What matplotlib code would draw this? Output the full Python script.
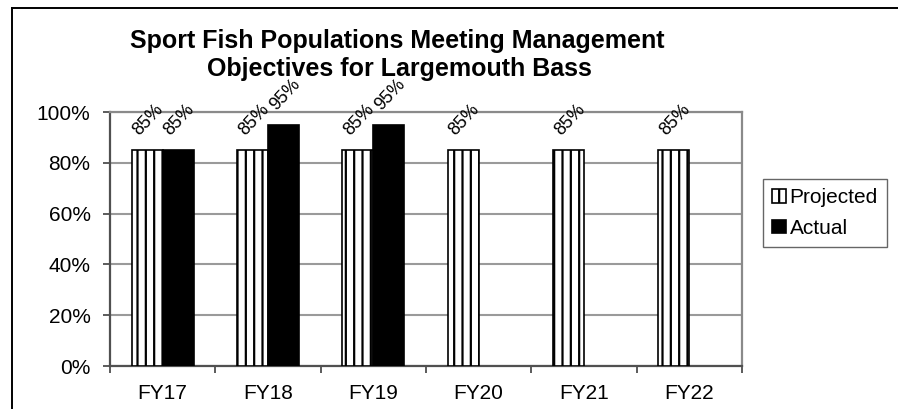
import matplotlib
matplotlib.use("Agg")
import matplotlib.pyplot as plt
import numpy as np
from matplotlib.lines import Line2D

plt.rcParams['font.family'] = ['Liberation Sans', 'DejaVu Sans']
plt.rcParams['hatch.linewidth'] = 1.6
plt.rcParams['hatch.color'] = 'black'

categories = ["FY17", "FY18", "FY19", "FY20", "FY21", "FY22"]
projected = [85, 85, 85, 85, 85, 85]
actual = [85, 95, 95, None, None, None]
yticks = [0, 20, 40, 60, 80, 100]
ytick_labels = ["0%", "20%", "40%", "60%", "80%", "100%"]
title_lines = ["Sport Fish Populations Meeting Management",
               "Objectives for Largemouth Bass"]

fig = plt.figure(figsize=(8.98, 4.09), dpi=100)
ax = fig.add_axes([110/898, 1-366/409, (742-110)/898, (366-112)/409])

x = np.arange(len(categories))
w = 0.295
proj_bars = ax.bar(x - w/2, projected, width=w, facecolor='white', edgecolor='black',
                   hatch='||', linewidth=1.2, label='Projected', zorder=3)
act_x = [xi + w/2 for xi, v in zip(x, actual) if v is not None]
act_v = [v for v in actual if v is not None]
act_bars = ax.bar(act_x, act_v, width=w, facecolor='black', edgecolor='black',
                  linewidth=1.2, label='Actual', zorder=3)

for bx, v in zip(x - w/2, projected):
    ax.annotate(f"{v}%", (bx, v), xytext=(1, 8), textcoords='offset points',
                rotation=47, ha='center', va='bottom', fontsize=13,
                annotation_clip=False)
for bx, v in zip(act_x, act_v):
    ax.annotate(f"{v}%", (bx, v), xytext=(1, 8), textcoords='offset points',
                rotation=47, ha='center', va='bottom', fontsize=13,
                annotation_clip=False)

ax.set_xlim(-0.5, len(categories) - 0.5)
ax.set_ylim(0, 100)
ax.set_yticks(yticks)
ax.set_yticklabels(ytick_labels, fontsize=15)
ax.set_xticks(x)
ax.set_xticklabels(categories, fontsize=15)
ax.set_xticks(np.arange(len(categories) + 1) - 0.5, minor=True)
ax.tick_params(axis='x', which='major', length=0, pad=13)
ax.tick_params(axis='x', which='minor', length=5, width=1.2, color='#404040', direction='out')
ax.tick_params(axis='y', length=5, width=1.2, color='#404040', direction='out', pad=9)

ax.yaxis.grid(True, color='#9a9a9a', linewidth=1.5, zorder=0)
ax.set_axisbelow(True)
for s in ['top', 'right']:
    ax.spines[s].set_color('#8a8a8a')
    ax.spines[s].set_linewidth(1.6)
for s in ['left', 'bottom']:
    ax.spines[s].set_color('#505050')
    ax.spines[s].set_linewidth(1.6)

fig.text(397/898, 1-48/409, title_lines[0], ha='center', va='baseline', fontsize=18,
         fontweight='bold')
fig.text(399/898, 1-76/409, title_lines[1], ha='center', va='baseline', fontsize=18,
         fontweight='bold')

leg = fig.legend(handles=[proj_bars, act_bars], labels=['Projected', 'Actual'],
                 loc='upper left', bbox_to_anchor=(763/898, 1-179/409),
                 fontsize=15, frameon=True, fancybox=False, shadow=False,
                 handlelength=0.63, handleheight=0.63, handletextpad=0.2,
                 labelspacing=0.55, borderpad=0.45, borderaxespad=0)
leg.get_frame().set_edgecolor('#404040')
leg.get_frame().set_linewidth(1.0)

fig.add_artist(Line2D([12/898, 1.0], [1-8/409, 1-8/409], transform=fig.transFigure,
                      color='black', linewidth=1.4))
fig.add_artist(Line2D([12/898, 12/898], [0, 1-8/409], transform=fig.transFigure,
                      color='black', linewidth=1.4))

fig.savefig("out.png", dpi=100, facecolor='white')
